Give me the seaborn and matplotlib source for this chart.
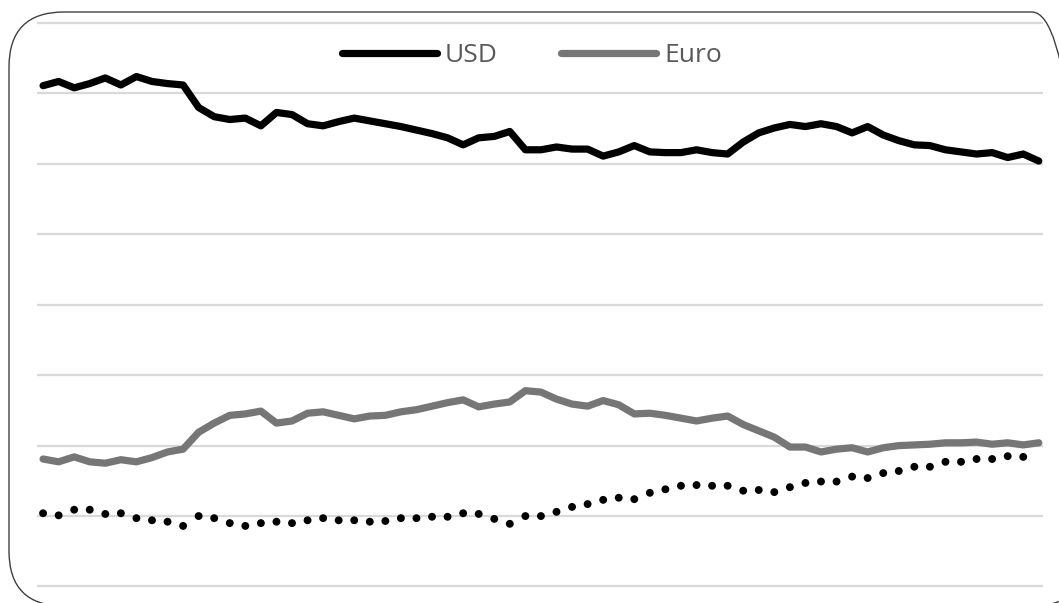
import numpy as np
import pandas as pd
import seaborn as sns
import matplotlib.pyplot as plt
from matplotlib.patches import FancyBboxPatch
from matplotlib.transforms import IdentityTransform

# values (gridlines every 10 units, 0 .. 80)
usd = [71.1, 71.7, 70.8, 71.4, 72.2, 71.2, 72.4, 71.7, 71.4, 71.2,
       68.0, 66.7, 66.3, 66.5, 65.4, 67.3, 67.0, 65.7, 65.4, 66.0,
       66.5, 66.1, 65.7, 65.3, 64.8, 64.3, 63.7, 62.7, 63.7, 63.9,
       64.6, 62.0, 62.0, 62.4, 62.1, 62.1, 61.1, 61.7, 62.6, 61.7,
       61.6, 61.6, 62.0, 61.6, 61.4, 63.1, 64.4, 65.1, 65.6, 65.3,
       65.7, 65.3, 64.4, 65.3, 64.1, 63.3, 62.7, 62.6, 62.0, 61.7,
       61.4, 61.6, 60.9, 61.4, 60.4]
euro = [18.1, 17.7, 18.4, 17.7, 17.5, 18.0, 17.7, 18.3, 19.1, 19.5,
        21.9, 23.2, 24.3, 24.5, 24.9, 23.2, 23.5, 24.6, 24.8, 24.3,
        23.8, 24.2, 24.3, 24.8, 25.1, 25.6, 26.1, 26.5, 25.5, 25.9,
        26.2, 27.8, 27.6, 26.6, 25.9, 25.6, 26.4, 25.8, 24.5, 24.6,
        24.3, 23.9, 23.5, 23.9, 24.2, 23.0, 22.1, 21.2, 19.8, 19.8,
        19.1, 19.5, 19.7, 19.1, 19.7, 20.0, 20.1, 20.2, 20.4, 20.4,
        20.5, 20.2, 20.4, 20.1, 20.4]
other = [10.4, 10.1, 10.9, 10.9, 10.3, 10.4, 9.7, 9.4, 9.2, 8.6,
         10.0, 9.7, 9.0, 8.6, 9.0, 9.2, 9.0, 9.4, 9.7, 9.4,
         9.4, 9.2, 9.3, 9.7, 9.7, 9.9, 9.9, 10.4, 10.3, 9.6,
         8.9, 10.0, 10.0, 10.6, 11.3, 11.7, 12.3, 12.6, 12.4, 13.3,
         13.8, 14.3, 14.4, 14.3, 14.3, 13.6, 13.7, 13.4, 14.1, 14.7,
         14.9, 14.9, 15.6, 15.4, 16.1, 16.4, 17.0, 17.0, 17.7, 17.7,
         18.1, 18.1, 18.5, 18.4]
yticks = [0, 10, 20, 30, 40, 50, 60, 70, 80]

df = pd.DataFrame({
  'period': list(range(len(usd))) + list(range(len(euro))),
  'value': usd + euro,
  'currency': ['USD'] * len(usd) + ['Euro'] * len(euro),
})
df_other = pd.DataFrame({'period': range(len(other)), 'value': other})

sns.set_style("white")
plt.rcParams['font.family'] = ['Open Sans', 'DejaVu Sans']

fig = plt.figure(figsize=(10.59, 6.03), dpi=100)
# plot area: x 37..1043 px, y 20..590 px
ax = fig.add_axes([37 / 1059, (603 - 590) / 603, 1006 / 1059, 570 / 603])

sns.lineplot(data=df, x='period', y='value', hue='currency',
             palette={'USD': 'black', 'Euro': '#767676'},
             linewidth=5.2, ax=ax, solid_capstyle='round', solid_joinstyle='round')
sns.scatterplot(data=df_other, x='period', y='value', color='black',
                s=32, edgecolor='none', ax=ax, zorder=3)

ax.set_xlim(-0.39, 64.27)
ax.set_ylim(-(590 - 586.5) / 7.04, 80 + (23 - 20) / 7.04)
ax.set_yticks(yticks)
ax.yaxis.grid(True, color='#d9d9d9', linewidth=1.6)
ax.set_axisbelow(True)
ax.tick_params(left=False, bottom=False, labelleft=False, labelbottom=False)
ax.set_xlabel('')
ax.set_ylabel('')
sns.despine(ax=ax, left=True, bottom=True)

handles, labels = ax.get_legend_handles_labels()
leg = ax.legend(handles, labels, ncol=2, loc='center',
                bbox_to_anchor=(532 / 1059, 547 / 603),
                bbox_transform=fig.transFigure, frameon=False,
                fontsize=19, handlelength=3.6, handletextpad=0.3,
                columnspacing=2.4, labelcolor='#595959')
for line in leg.get_lines():
  line.set_linewidth(5.2)
  line.set_solid_capstyle('round')

# rounded frame around the chart, in pixels (origin bottom-left)
frame = FancyBboxPatch((9, -3), 1078, 594,
                       boxstyle='round,pad=0,rounding_size=55',
                       transform=IdentityTransform(), facecolor='none',
                       edgecolor='#404040', linewidth=1.0, zorder=10)
fig.patches.append(frame)

fig.savefig('out.png', dpi=100)
